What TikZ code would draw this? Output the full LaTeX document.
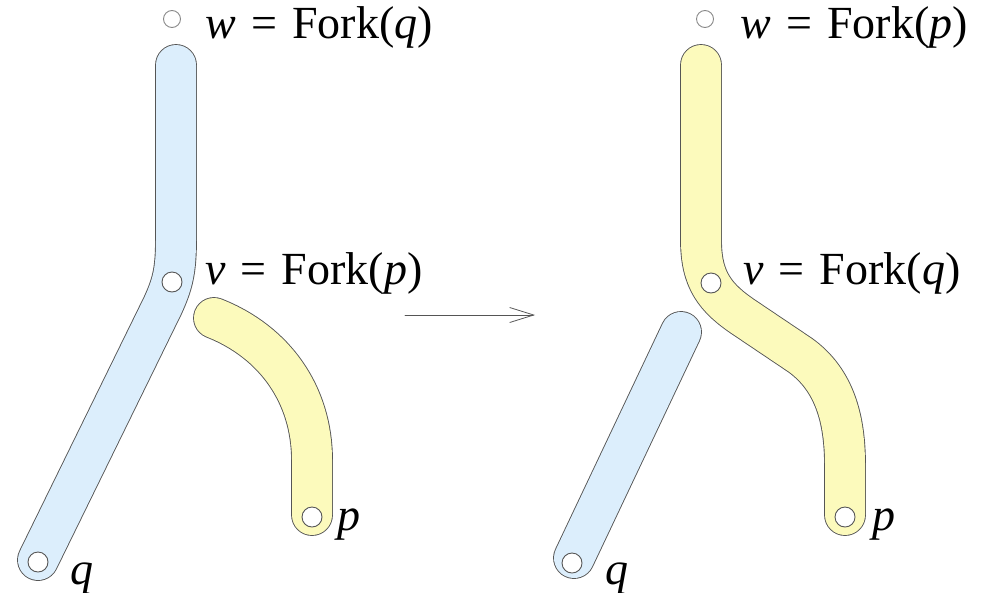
\documentclass[tikz,border=0pt]{standalone}
\usepackage{fontspec}
\setmainfont{Liberation Serif}
\usetikzlibrary{arrows.meta}
\definecolor{tubeblue}{RGB}{220,238,252}
\definecolor{tubeyellow}{RGB}{252,250,188}
\definecolor{edgegray}{RGB}{85,85,85}
\newcommand{\eqsign}{\hspace{0.33em}=\hspace{0.33em}}
\begin{document}
\begin{tikzpicture}[x=1pt, y=-1pt, line join=round, line cap=round,
	tube/.style={draw=edgegray, line width=0.9pt, double distance=40pt},
	dot/.style={draw=edgegray, fill=white, line width=0.9pt},
	lbl/.style={inner sep=0pt, anchor=base west, font=\fontsize{46}{55}\selectfont}]
	\useasboundingbox (0,0) rectangle (984,592);
	
	% Left: tree before the change
	\draw[tube, double=tubeblue] (176,65) -- (176,240) .. controls (176,272) and (172,285) .. (163,305) -- (38,560);
	\draw[tube, double=tubeyellow] (214,318) .. controls (275,342) and (312,395) .. (312,460) -- (312,515);
	
	% Left: vertices and labels
	\coordinate (wL) at (172,19);
	\coordinate (vL) at (172,282);
	\coordinate (qL) at (38,562);
	\coordinate (pL) at (312,517);
	\draw[draw=edgegray!70, line width=0.9pt] (wL) circle (8.5);
	\draw[dot] (vL) circle (10);
	\draw[dot] (qL) circle (10);
	\draw[dot] (pL) circle (10);
	\node[lbl] (wLtext) at (205,38) {\textit{w}\eqsign Fork(\textit{q})};
	\node[lbl] (vLtext) at (205,284) {\textit{v}\eqsign Fork(\textit{p})};
	\node[lbl] (qLtext) at (70,584) {\textit{q}};
	\node[lbl] (pLtext) at (337,530) {\textit{p}};
	
	% Arrow between the two trees
	\coordinate (A1) at (405,315);
	\coordinate (A2) at (535,315);
	\draw[edgegray, line width=0.8pt, -{Straight Barb[length=24pt, width=15pt]}] (A1) -- (A2);
	
	% Right: tree after the change
	\draw[tube, double=tubeblue] (681,332) -- (574,558);
	\draw[tube, double=tubeyellow] (701,65) -- (701,240) .. controls (701,280) and (715,298) .. (745,318) -- (800,355) .. controls (835,380) and (845,420) .. (845,465) -- (845,515);
	
	% Right: vertices and labels
	\coordinate (wR) at (705,19);
	\coordinate (vR) at (711,283);
	\coordinate (qR) at (572,563);
	\coordinate (pR) at (845,517);
	\draw[draw=edgegray!70, line width=0.9pt] (wR) circle (8.5);
	\draw[dot] (vR) circle (10);
	\draw[dot] (qR) circle (10);
	\draw[dot] (pR) circle (10);
	\node[lbl] (wRtext) at (740,38) {\textit{w}\eqsign Fork(\textit{p})};
	\node[lbl] (vRtext) at (743,284) {\textit{v}\eqsign Fork(\textit{q})};
	\node[lbl] (qRtext) at (605,584) {\textit{q}};
	\node[lbl] (pRtext) at (872,530) {\textit{p}};
\end{tikzpicture}
\end{document}
